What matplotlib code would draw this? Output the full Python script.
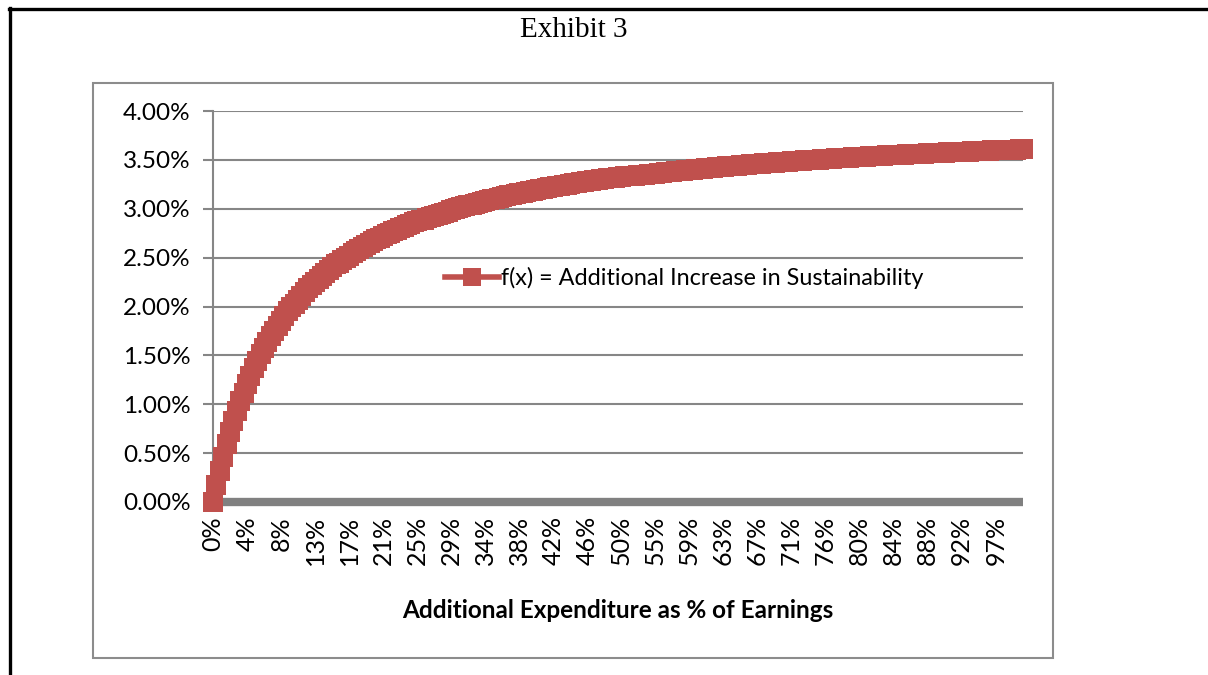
import matplotlib
matplotlib.use("Agg")
import matplotlib.pyplot as plt
from matplotlib.lines import Line2D
from matplotlib.patches import Rectangle

# ---------------- data ----------------
title = "Exhibit 3"
x_title = "Additional Expenditure as % of Earnings"
series_name = "f(x) = Additional Increase in Sustainability"

# 239 categories (0% .. 100% of earnings); tick labels shown every 10th category
tick_labels = ["0%", "4%", "8%", "13%", "17%", "21%", "25%", "29%", "34%", "38%",
               "42%", "46%", "50%", "55%", "59%", "63%", "67%", "71%", "76%", "80%",
               "84%", "88%", "92%", "97%"]

# additive increase in sustainability, in percent
f_values = [
    0.00, 0.17, 0.32, 0.46, 0.59, 0.72, 0.83, 0.93, 1.03, 1.12,
    1.21, 1.29, 1.37, 1.44, 1.51, 1.58, 1.64, 1.70, 1.75, 1.80,
    1.85, 1.90, 1.95, 1.99, 2.03, 2.07, 2.11, 2.15, 2.19, 2.22,
    2.25, 2.28, 2.31, 2.34, 2.37, 2.40, 2.43, 2.45, 2.48, 2.50,
    2.52, 2.55, 2.57, 2.59, 2.61, 2.63, 2.65, 2.67, 2.69, 2.70,
    2.72, 2.74, 2.75, 2.77, 2.78, 2.80, 2.81, 2.83, 2.84, 2.86,
    2.87, 2.88, 2.89, 2.91, 2.92, 2.93, 2.94, 2.95, 2.96, 2.97,
    2.99, 3.00, 3.01, 3.02, 3.03, 3.04, 3.04, 3.05, 3.06, 3.07,
    3.08, 3.09, 3.10, 3.10, 3.11, 3.12, 3.13, 3.14, 3.14, 3.15,
    3.16, 3.16, 3.17, 3.18, 3.18, 3.19, 3.20, 3.20, 3.21, 3.22,
    3.22, 3.23, 3.23, 3.24, 3.24, 3.25, 3.26, 3.26, 3.27, 3.27,
    3.28, 3.28, 3.29, 3.29, 3.30, 3.30, 3.31, 3.31, 3.31, 3.32,
    3.32, 3.33, 3.33, 3.34, 3.34, 3.35, 3.35, 3.35, 3.36, 3.36,
    3.36, 3.37, 3.37, 3.38, 3.38, 3.38, 3.39, 3.39, 3.39, 3.40,
    3.40, 3.40, 3.41, 3.41, 3.41, 3.42, 3.42, 3.42, 3.43, 3.43,
    3.43, 3.44, 3.44, 3.44, 3.44, 3.45, 3.45, 3.45, 3.46, 3.46,
    3.46, 3.46, 3.47, 3.47, 3.47, 3.47, 3.48, 3.48, 3.48, 3.48,
    3.49, 3.49, 3.49, 3.49, 3.50, 3.50, 3.50, 3.50, 3.50, 3.51,
    3.51, 3.51, 3.51, 3.52, 3.52, 3.52, 3.52, 3.52, 3.53, 3.53,
    3.53, 3.53, 3.53, 3.54, 3.54, 3.54, 3.54, 3.54, 3.55, 3.55,
    3.55, 3.55, 3.55, 3.55, 3.56, 3.56, 3.56, 3.56, 3.56, 3.56,
    3.57, 3.57, 3.57, 3.57, 3.57, 3.57, 3.58, 3.58, 3.58, 3.58,
    3.58, 3.58, 3.58, 3.59, 3.59, 3.59, 3.59, 3.59, 3.59, 3.60,
    3.60, 3.60, 3.60, 3.60, 3.60, 3.60, 3.60, 3.61, 3.61,
]
zero_values = [0.0] * len(f_values)

y_ticks = [0.0, 0.5, 1.0, 1.5, 2.0, 2.5, 3.0, 3.5, 4.0]

# ---------------- styling ----------------
W, H = 1208, 675
RED = "#C0504D"
GRAY = "#868686"
FONT = "Lato"

fig = plt.figure(figsize=(W / 100, H / 100), dpi=100)
fig.patch.set_facecolor("white")


def fx(px):
    return px / W


def fy(py):
    return 1 - py / H


# outer black frame (left and top)
fig.add_artist(Line2D([fx(9.5), fx(9.5)], [fy(8), fy(676)], color="black", lw=2.4))
fig.add_artist(Line2D([fx(8.5), fx(1210)], [fy(8.5), fy(8.5)], color="black", lw=2.4))

# chart area border
fig.add_artist(Rectangle((fx(93), fy(658)), fx(1053) - fx(93), fy(83) - fy(658),
                         transform=fig.transFigure, fill=False,
                         edgecolor="#8C8C8C", lw=1.5))

fig.text(fx(574), fy(30), title, ha="center", va="center",
         fontsize=21, family="Liberation Serif", color="black")

left, right, top, bottom = 213, 1023, 111, 502
ax = fig.add_axes([fx(left), fy(bottom), fx(right) - fx(left), fy(top) - fy(bottom)])
ax.set_facecolor("none")

xs = list(range(len(f_values)))
ax.set_xlim(0, len(f_values) - 1)
ax.set_ylim(0, 4.0)

# gridlines
for v in y_ticks[1:]:
    ax.axhline(v, color=GRAY, lw=1.5, zorder=1)

ax.plot(xs, zero_values, color="#808080", lw=6.0, solid_capstyle="butt",
        clip_on=False, zorder=2)
line, = ax.plot(xs, f_values, color=RED, lw=4.0, marker="s", markersize=14.5,
                markerfacecolor=RED, markeredgecolor=RED, markeredgewidth=0,
                clip_on=False, zorder=3, label=series_name)

for s in ["top", "right", "bottom"]:
    ax.spines[s].set_visible(False)
ax.spines["left"].set_color(GRAY)
ax.spines["left"].set_linewidth(1.5)

ax.set_yticks(y_ticks)
ax.set_yticklabels([f"{v:.2f}%" for v in y_ticks], fontsize=17.5, family=FONT)
ax.tick_params(axis="y", direction="out", length=7, width=1.5, color=GRAY, pad=9)

ax.set_xticks(xs[::10])
ax.set_xticklabels(tick_labels, rotation=90, fontsize=18, family=FONT)
ax.tick_params(axis="x", length=0, pad=10)

fig.text(fx(618), fy(611), x_title, ha="center", va="center",
         fontsize=17.5, family=FONT, fontweight="bold")

leg = fig.legend(handles=[line], loc="center left",
                 bbox_to_anchor=(fx(445), fy(278)), frameon=False,
                 prop={"family": FONT, "size": 16.8}, handlelength=2.3,
                 handletextpad=0.1, borderpad=0, borderaxespad=0)
leg.get_lines()[0].set_markersize(13)

fig.savefig("out.png", dpi=100)
